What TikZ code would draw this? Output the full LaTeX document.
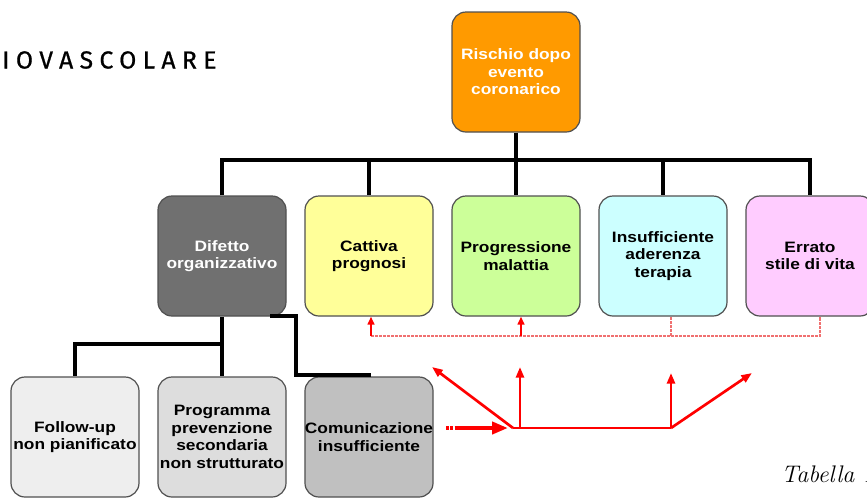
\documentclass[tikz,border=0pt]{standalone}
\usepackage{fontspec}
\usetikzlibrary{arrows.meta,calc}
\newfontfamily\boxfont{Liberation Sans}[FakeStretch=1.15]
\newfontfamily\headfont{Fira Sans}[LetterSpace=26,FakeBold=0.8]
\definecolor{orangeC}{HTML}{FF9A00}
\definecolor{darkG}{HTML}{707070}
\definecolor{yelC}{HTML}{FFFF99}
\definecolor{grnC}{HTML}{CCFF99}
\definecolor{cyaC}{HTML}{CCFFFF}
\definecolor{pnkC}{HTML}{FFCCFF}
\definecolor{lg1}{HTML}{EEEEEE}
\definecolor{lg2}{HTML}{DDDDDD}
\definecolor{lg3}{HTML}{C0C0C0}
\definecolor{edgeC}{HTML}{505050}
\definecolor{redC}{HTML}{FF0000}
\definecolor{dashC}{HTML}{F07070}
\begin{document}
\begin{tikzpicture}[x=0.75pt,y=-0.75pt,
  card/.style={draw=edgeC,line width=0.9pt,rounded corners=10.5pt,minimum width=96pt,minimum height=90pt,
     inner sep=0pt,align=center,font=\boxfont\bfseries\fontsize{11.3}{13.2}\selectfont},
  link/.style={draw=black,line width=2.3pt},
  redarrow/.style={draw=redC,line width=2pt,-{Triangle[length=8pt,width=6pt]}},
  thinred/.style={draw=dashC,line width=0.8pt,dash pattern=on 2pt off 1pt}]
\useasboundingbox (0,0) rectangle (867,497);
\node[anchor=west,inner sep=0pt,font=\headfont\fontsize{18.5}{22}\selectfont] (head) at (2,60) {IOVASCOLARE};
\node[anchor=base west,inner sep=0pt,font=\itshape\fontsize{18}{21}\selectfont] (tab) at (781,482) {Tabella 1};

\node[card,fill=orangeC,text=white] (top) at (516,72) {Rischio dopo\\evento\\coronarico};
\node[card,fill=darkG,text=white] (dif) at (222,256) {Difetto\\organizzativo};
\node[card,fill=yelC] (cat) at (369,256) {Cattiva\\prognosi};
\node[card,fill=grnC] (pro) at (516,256) {Progressione\\malattia};
\node[card,fill=cyaC] (ins) at (663,256) {Insufficiente\\aderenza\\terapia};
\node[card,fill=pnkC] (err) at (810,256) {Errato\\stile di vita};
\node[card,fill=lg1] (fol) at (75,437) {Follow-up\\non pianificato};
\node[card,fill=lg2] (prg) at (222,437) {Programma\\prevenzione\\secondaria\\non strutturato};
\node[card,fill=lg3] (com) at (369,437) {Comunicazione\\insufficiente};

% black tree
\coordinate (bar) at (516,160);
\draw[link] (top.south) -- (bar);
\draw[link] (dif.north) |- (err.north |- bar) -- (err.north);
\draw[link] (cat.north |- bar) -- (cat.north);
\draw[link] (pro.north |- bar) -- (pro.north);
\draw[link] (ins.north |- bar) -- (ins.north);
\coordinate (j1) at (222,344);
\draw[link] (dif.south) -- (prg.north);
\draw[link] (j1) -| (fol.north);
\coordinate (k0) at (272,316);
\coordinate (k1) at (296,316);
\coordinate (k2) at (296,375);
\draw[link,line cap=rect] (k0) -- (k1) -- (k2) -- (k2 -| com.north);

% red dashed feedback
\coordinate (d0) at (371,336);
\coordinate (d1) at (521,336);
\coordinate (d2) at (671,336);
\coordinate (d3) at (820,336);
\draw[thinred] (d0) -- (d3) -- (d3 |- err.south);
\draw[thinred] (d2) -- (d2 |- ins.south);
\draw[draw=redC,line width=2pt,-{Triangle[length=6pt,width=5pt]}] (d0) -- (d0 |- cat.south);
\draw[draw=redC,line width=2pt,-{Triangle[length=6pt,width=5pt]}] (d1) -- (d1 |- pro.south);

% red lower arrows
\coordinate (r0) at (446,428);
\coordinate (r1) at (456,428);
\coordinate (r2) at (508,428);
\coordinate (h1) at (513,428);
\coordinate (h2) at (671,428);
\coordinate (t1) at (432,367);
\coordinate (t2) at (520,367);
\coordinate (t3) at (671,373);
\coordinate (t4) at (752,373);
\draw[draw=redC,line width=3pt,dash pattern=on 2pt off 1.2pt] (r0) -- (r1);
\draw[draw=redC,line width=3pt,-{Triangle[length=12pt,width=9pt]}] (r1) -- (r2);
\draw[draw=redC,line width=2pt] (h1) -- (h2);
\draw[redarrow] (h1) -- (t1);
\draw[redarrow] (h1 -| t2) -- (t2);
\draw[redarrow] (h2) -- (t3);
\draw[redarrow] (h2) -- (t4);
\end{tikzpicture}
\end{document}
